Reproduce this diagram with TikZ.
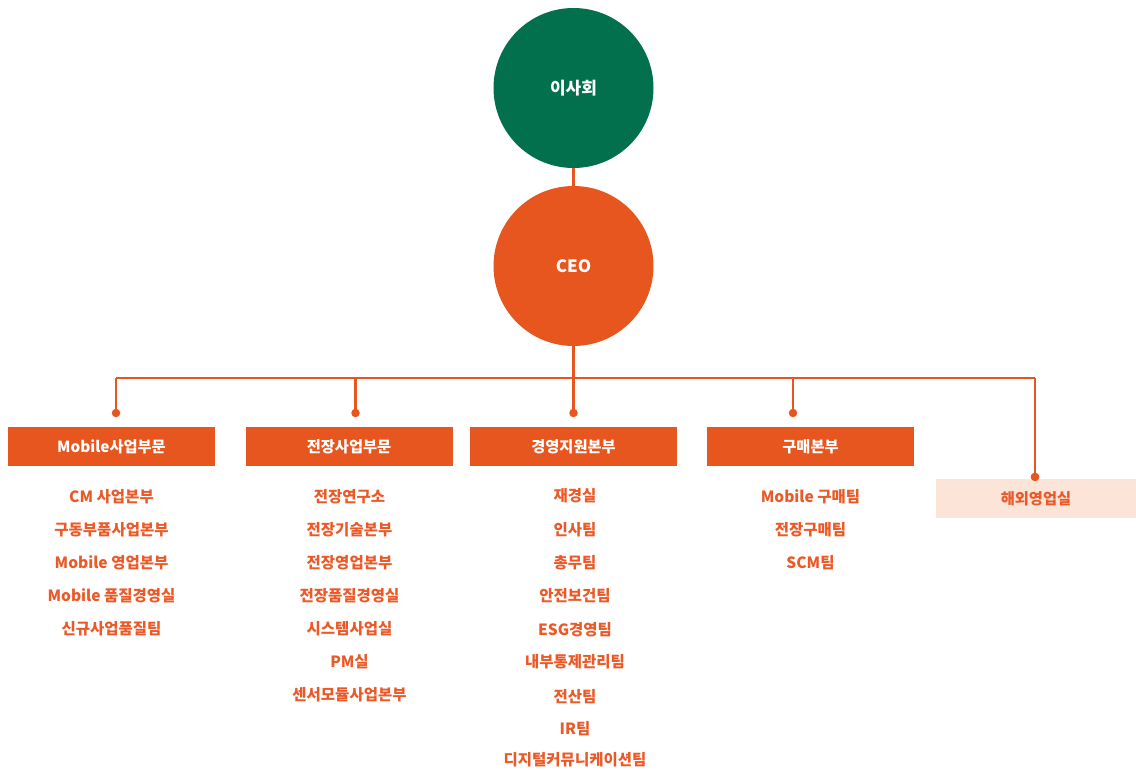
\documentclass[tikz,border=0pt]{standalone}
\usepackage{fontspec}
\setmainfont{Noto Sans CJK KR}
\definecolor{boardgreen}{HTML}{02704C}
\definecolor{ceoorange}{HTML}{E8561F}
\definecolor{itemorange}{HTML}{EA5A28}
\definecolor{palebg}{HTML}{FDE4D8}
\tikzset{
  bigcircle/.style={circle, minimum size=160pt, inner sep=0pt, text=white, font=\fontsize{17pt}{20pt}\selectfont\bfseries},
  bar/.style={fill=ceoorange, minimum width=207pt, minimum height=39pt, inner sep=0pt, text=white, font=\fontsize{15.3pt}{18pt}\selectfont\bfseries},
  palebox/.style={fill=palebg, minimum width=200pt, minimum height=39pt, inner sep=0pt, text=itemorange, font=\fontsize{15.3pt}{18pt}\selectfont\bfseries},
  item/.style={text=itemorange, inner sep=0pt, font=\fontsize{15.5pt}{18pt}\selectfont\bfseries},
  conn/.style={draw=ceoorange, line width=2.2pt},
  dotmark/.style={circle, fill=ceoorange, minimum size=8.5pt, inner sep=0pt},
}
\begin{document}
\begin{tikzpicture}[x=1pt, y=-1pt]
\useasboundingbox (0,0) rectangle (1136,770);
% circles
\node[bigcircle, fill=boardgreen] (board) at (573.5,88) {이사회};
\node[bigcircle, fill=ceoorange] (ceo) at (573.5,266) {CEO};
% junctions
\coordinate (h0) at (573.5,378);
\coordinate (j1) at (116,378);
\coordinate (j2) at (355.5,378);
\coordinate (j3) at (573.5,378);
\coordinate (j4) at (793,378);
\coordinate (j5) at (1035,378);
\node[dotmark] (d1) at (116,413) {};
\node[dotmark] (d2) at (355.5,413) {};
\node[dotmark] (d3) at (573.5,413) {};
\node[dotmark] (d4) at (793,413) {};
\node[dotmark] (d5) at (1035,477) {};
% connectors
\draw[conn] (board.south) -- (ceo.north);
\draw[conn] (ceo.south) -- (h0);
\draw[conn] (j1) -- (j5);
\draw[conn] (j1) -- (d1.center);
\draw[conn] (j2) -- (d2.center);
\draw[conn] (j3) -- (d3.center);
\draw[conn] (j4) -- (d4.center);
% pale box first, then line and dot over it
\node[palebox, minimum width=200pt] (b5) at (1036,498.5) {해외영업실};
\draw[conn] (j5) -- (d5.center);
\node[dotmark] at (d5) {};
% bars
\node[bar] (b1) at (111.5,446.5) {Mobile사업부문};
\node[bar] (b2) at (349,446.5) {전장사업부문};
\node[bar] (b3) at (573.5,446.5) {경영지원본부};
\node[bar] (b4) at (810.5,446.5) {구매본부};
% column 1
\node[item] (m1) at (111.5,497) {CM 사업본부};
\node[item] (m2) at (111.5,530) {구동부품사업본부};
\node[item] (m3) at (111.5,562.5) {Mobile 영업본부};
\node[item] (m4) at (111.5,596) {Mobile 품질경영실};
\node[item] (m5) at (111.5,628.5) {신규사업품질팀};
% column 2
\node[item] (e1) at (349.5,497) {전장연구소};
\node[item] (e2) at (349.5,530) {전장기술본부};
\node[item] (e3) at (349.5,562.5) {전장영업본부};
\node[item] (e4) at (349.5,596) {전장품질경영실};
\node[item] (e5) at (349.5,629) {시스템사업실};
\node[item] (e6) at (349.5,662) {PM실};
\node[item] (e7) at (349.5,695) {센서모듈사업본부};
% column 3
\node[item] (g1) at (575,496) {재경실};
\node[item] (g2) at (575,530) {인사팀};
\node[item] (g3) at (575,563) {총무팀};
\node[item] (g4) at (575,595.5) {안전보건팀};
\node[item] (g5) at (575,630) {ESG경영팀};
\node[item] (g6) at (575,662) {내부통제관리팀};
\node[item] (g7) at (575,697) {전산팀};
\node[item] (g8) at (575,729) {IR팀};
\node[item] (g9) at (575,760) {디지털커뮤니케이션팀};
% column 4
\node[item] (p1) at (810.5,496.5) {Mobile 구매팀};
\node[item] (p2) at (810.5,530) {전장구매팀};
\node[item] (p3) at (810.5,563) {SCM팀};
\end{tikzpicture}
\end{document}
